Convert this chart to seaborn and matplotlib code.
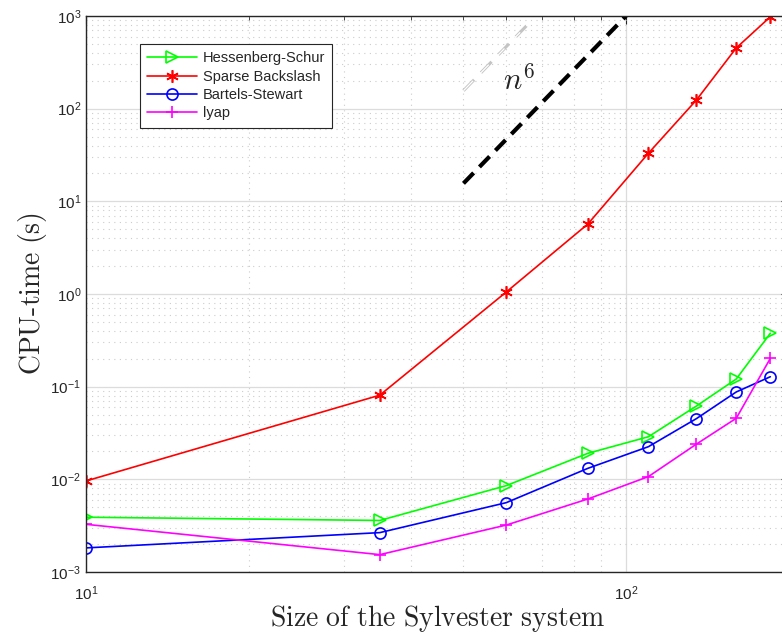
import numpy as np
import pandas as pd
import matplotlib
matplotlib.use("Agg")
import matplotlib.pyplot as plt
import seaborn as sns
from matplotlib.ticker import LogLocator, NullFormatter

sizes = [10, 35, 60, 85, 110, 135, 160, 185]
hessenberg_schur = [0.0039, 0.0036, 0.00855, 0.0191, 0.0288, 0.0618, 0.121, 0.377]
sparse_backslash = [0.0096, 0.081, 1.05, 5.7, 33.0, 124.0, 452.0, 980.0]
bartels_stewart = [0.00182, 0.00266, 0.0056, 0.01315, 0.0225, 0.0452, 0.0877, 0.128]
lyap = [0.00327, 0.00154, 0.00321, 0.00614, 0.0107, 0.024, 0.0456, 0.202]

series_names = ["Hessenberg-Schur", "Sparse Backslash", "Bartels-Stewart", "lyap"]
series_values = [hessenberg_schur, sparse_backslash, bartels_stewart, lyap]
series_colors = ["#00ff00", "#ff0000", "#0000ff", "#ff00ff"]
series_markers = [">", (6, 2, 0), "o", "+"]

# reference slope lines, n^6
ref_n = [50, 100]
ref_coef = 1e-9
ref2_n = [50, 66.5]
ref2_coef = 1e-8

sns.set_theme(style="white")
plt.rcParams["mathtext.fontset"] = "cm"
plt.rcParams["font.family"] = ["Liberation Sans", "DejaVu Sans"]

fig = plt.figure(figsize=(7.82, 6.34), dpi=100)
ax_w = (788.6 - 86) / 782
ax_h = 556 / 634
ax = fig.add_axes([86 / 782, 1 - 572 / 634, ax_w, ax_h])

for name, vals, col, mk in zip(series_names, series_values, series_colors, series_markers):
    df = pd.DataFrame({"n": sizes, "t": vals})
    filled = mk == (6, 2, 0) or mk == "+"
    sns.lineplot(
        data=df, x="n", y="t", ax=ax, color=col, marker=mk, markersize=9 if mk != "o" else 8,
        markerfacecolor=col if filled else "none", markeredgecolor=col,
        markeredgewidth=1.2, linewidth=1.2, label=name,
    )

# n^6 guide lines
ref_n = np.array(ref_n, dtype=float)
ax.plot(ref_n, ref_coef * ref_n ** 6, color="black", linestyle=(0, (3.5, 2.0)),
        linewidth=3, label="_nolegend_")
ref2_n = np.array(ref2_n, dtype=float)
ax.plot(ref2_n, ref2_coef * ref2_n ** 6, color="#c4c4c4", linestyle=(0, (5, 3.2)),
        linewidth=2.2, label="_nolegend_")
ax.plot(ref2_n, ref2_coef * ref2_n ** 6, color="white", linewidth=0.9,
        dashes=(11.0, 7.04), label="_nolegend_")
ax.text(63.5, 200, r"$n^6$", fontsize=22, ha="center", va="center")

ax.set_xscale("log")
ax.set_yscale("log")
ax.set_xlim(10, 200)
ax.set_ylim(1e-3, 1e3)

ax.xaxis.set_major_locator(LogLocator(base=10, numticks=10))
ax.xaxis.set_minor_locator(LogLocator(base=10, subs=np.arange(2, 10), numticks=20))
ax.yaxis.set_major_locator(LogLocator(base=10, numticks=10))
ax.yaxis.set_minor_locator(LogLocator(base=10, subs=np.arange(2, 10), numticks=20))
ax.xaxis.set_minor_formatter(NullFormatter())
ax.yaxis.set_minor_formatter(NullFormatter())

ax.grid(True, which="major", color="#dcdcdc", linewidth=0.9, linestyle="-")
ax.grid(True, which="minor", color="#cccccc", linewidth=0.8, linestyle=(0, (1, 4)))
ax.set_axisbelow(True)

ax.tick_params(which="both", direction="in", top=True, right=True, colors="#262626",
               labelcolor="#262626", labelsize=11)
ax.tick_params(which="major", length=6, width=0.8)
ax.tick_params(which="minor", length=3, width=0.6)
ax.tick_params(axis="x", pad=9)
for s in ax.spines.values():
    s.set_color("#262626")
    s.set_linewidth(1.0)

ax.set_xlabel(r"$\mathrm{Size\ of\ the\ Sylvester\ system}$", fontsize=20, color="#262626", labelpad=0)
ax.set_ylabel(r"$\mathrm{CPU\text{-}time\ (s)}$", fontsize=20, color="#262626", labelpad=1)

leg = ax.legend(loc="upper left",
                bbox_to_anchor=((140 - 86) / 782 / ax_w, 1 - (44 - 16) / 634 / ax_h),
                bbox_transform=ax.transAxes, fontsize=10.5, frameon=True, fancybox=False,
                edgecolor="#262626", framealpha=1, handlelength=3.4, borderpad=0.5,
                labelspacing=0.3, handletextpad=0.4, borderaxespad=0)
leg.get_frame().set_linewidth(0.8)

fig.savefig("out.png", dpi=100)
